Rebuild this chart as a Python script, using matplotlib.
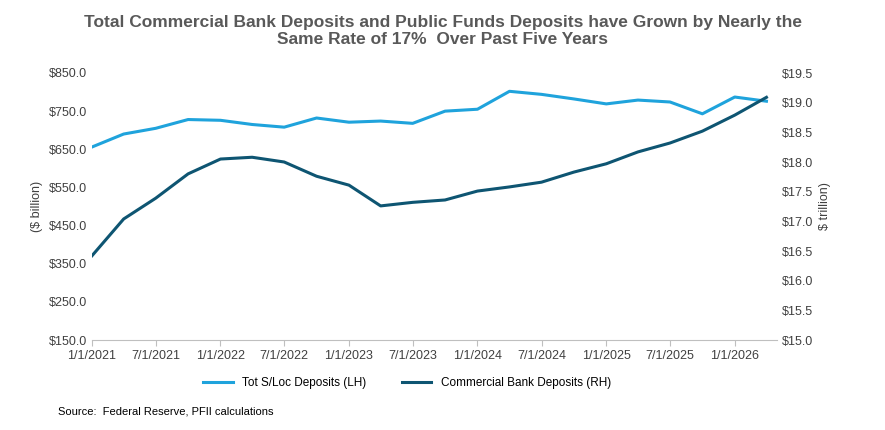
import matplotlib.pyplot as plt
import pandas as pd

dates = pd.date_range("2021-01-01", "2026-04-01", freq="QS")
tot_sloc = [656, 690, 705, 728, 726, 715, 708, 732, 721, 724, 718, 750,
            755, 802, 794, 782, 769, 779, 774, 743, 787, 776]
comm_bank = [16.42, 17.04, 17.39, 17.80, 18.05, 18.08, 18.00, 17.76, 17.61, 17.26, 17.32, 17.36,
             17.51, 17.58, 17.66, 17.83, 17.97, 18.17, 18.32, 18.52, 18.79, 19.09]
tick_dates = pd.date_range("2021-01-01", "2026-01-01", freq="6MS")

plt.rcParams['font.family'] = ['Liberation Sans', 'DejaVu Sans']
fig = plt.figure(figsize=(8.85, 4.3), dpi=100)
ax = fig.add_axes([92/885, 90/430, 685/885, 267/430])
ax2 = ax.twinx()

l1, = ax.plot(dates, tot_sloc, color='#1fa3dc', lw=2.2, label='Tot S/Loc Deposits (LH)')
l2, = ax2.plot(dates, comm_bank, color='#0e5572', lw=2.2, label='Commercial Bank Deposits (RH)')

ax.set_ylim(150, 850)
ax.set_yticks(range(150, 851, 100))
ax.set_yticklabels([f"${v:.1f}" for v in range(150, 851, 100)])
ax2.set_ylim(15.0, 19.5)
ax2.set_yticks([15 + 0.5 * i for i in range(10)])
ax2.set_yticklabels([f"${15 + 0.5 * i:.1f}" for i in range(10)])
ax.set_xlim(pd.Timestamp("2021-01-01"), pd.Timestamp("2026-05-01"))
ax.set_xticks(tick_dates)
ax.set_xticklabels([f"{d.month}/{d.day}/{d.year}" for d in tick_dates])

for a in (ax, ax2):
    a.tick_params(labelsize=9, colors='#404040', length=0)
    for s in a.spines.values():
        s.set_visible(False)
ax.spines['bottom'].set_visible(True)
ax.spines['bottom'].set_color('#bfbfbf')
ax.tick_params(axis='x', length=4, color='#bfbfbf', direction='out')

ax.set_ylabel('($ billion)', fontsize=9, color='#404040')
ax2.set_ylabel('$ trillion)', fontsize=9, color='#404040')

fig.suptitle('Total Commercial Bank Deposits and Public Funds Deposits have Grown by Nearly the\nSame Rate of 17%  Over Past Five Years',
             fontsize=12.5, fontweight='bold', color='#595959', y=0.965)
fig.legend(handles=[l1, l2], loc='center', bbox_to_anchor=(0.46, 0.11), ncol=2,
           frameon=False, fontsize=8.5, handlelength=2.5, columnspacing=3)
fig.text(0.065, 0.035, 'Source:  Federal Reserve, PFII calculations', fontsize=8, color='#000000')

fig.savefig('out.png', dpi=100)
